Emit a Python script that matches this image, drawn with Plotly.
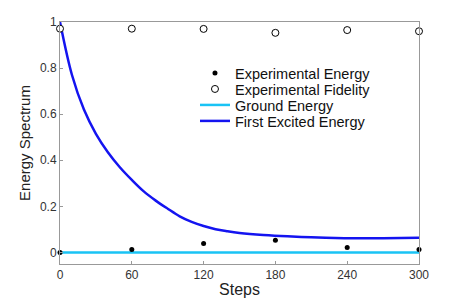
import plotly.graph_objects as go

steps = [0, 60, 120, 180, 240, 300]
exp_energy = [0.0, 0.013, 0.039, 0.053, 0.022, 0.013]
exp_fidelity = [0.971, 0.971, 0.970, 0.953, 0.965, 0.960]

curve_steps = [0, 10, 20, 30, 40, 50, 60, 70, 80, 90, 100, 110, 120, 130, 140, 150,
               170, 190, 210, 230, 250, 270, 300]
first_excited = [1.0, 0.77, 0.62, 0.515, 0.435, 0.37, 0.315, 0.265, 0.225, 0.19,
                 0.157, 0.133, 0.115, 0.101, 0.092, 0.085, 0.076, 0.070, 0.066,
                 0.063, 0.062, 0.062, 0.064]
ground_steps = [0, 300]
ground = [0.0, 0.0]

x_ticks = [0, 60, 120, 180, 240, 300]
y_ticks = [0, 0.2, 0.4, 0.6, 0.8, 1]
y_tick_text = ["0", "0.2", "0.4", "0.6", "0.8", "1"]

FONT = "Liberation Sans, Arial, sans-serif"

fig = go.Figure()
fig.add_trace(go.Scatter(x=ground_steps, y=ground, mode="lines", name="Ground Energy",
                         line=dict(color="#19C3F5", width=2.5), legend="legend3"))
fig.add_trace(go.Scatter(x=curve_steps, y=first_excited, mode="lines", name="First Excited Energy",
                         line=dict(color="#1414F0", width=2.5, shape="spline", smoothing=1.0),
                         legend="legend4"))
fig.add_trace(go.Scatter(x=steps, y=exp_energy, mode="markers", name="Experimental Energy",
                         marker=dict(color="black", size=5, symbol="circle"), cliponaxis=False,
                         legend="legend"))
fig.add_trace(go.Scatter(x=steps, y=exp_fidelity, mode="markers", name="Experimental Fidelity",
                         marker=dict(color="white", size=7, symbol="circle",
                                     line=dict(color="black", width=1)), cliponaxis=False,
                         legend="legend2"))

axis_common = dict(showline=True, linecolor="#999", linewidth=1, mirror=True,
                   ticks="inside", ticklen=3, tickcolor="#999", showgrid=False,
                   zeroline=False, automargin=False,
                   tickfont=dict(family=FONT, size=12, color="#333"))

fig.update_xaxes(range=[0, 300], tickvals=x_ticks, ticktext=[str(v) for v in x_ticks],
                 title=dict(text="Steps", font=dict(family=FONT, size=16, color="#222"),
                            standoff=2), **axis_common)
fig.update_yaxes(range=[-0.05, 1], tickvals=y_ticks, ticktext=y_tick_text,
                 title=dict(text="Energy Spectrum", font=dict(family=FONT, size=15, color="#222"),
                            standoff=5), **axis_common)

leg_font = dict(family=FONT, size=14.5, color="#111")
leg_x = 0.376
def leg(y):
    return dict(x=leg_x, y=y, xanchor="left", yanchor="middle", bgcolor="rgba(0,0,0,0)",
                font=leg_font, itemwidth=30, borderwidth=0)

fig.update_layout(
    width=463, height=300,
    margin=dict(l=60, r=44, t=22, b=36),
    paper_bgcolor="white", plot_bgcolor="white",
    showlegend=True,
    legend=leg(0.789),
    legend2=leg(0.723),
    legend3=leg(0.657),
    legend4=leg(0.591),
)

fig.write_html("out.html", config={"displayModeBar": False},
               post_script="document.body.style.margin='0';document.body.style.overflow='hidden';")
